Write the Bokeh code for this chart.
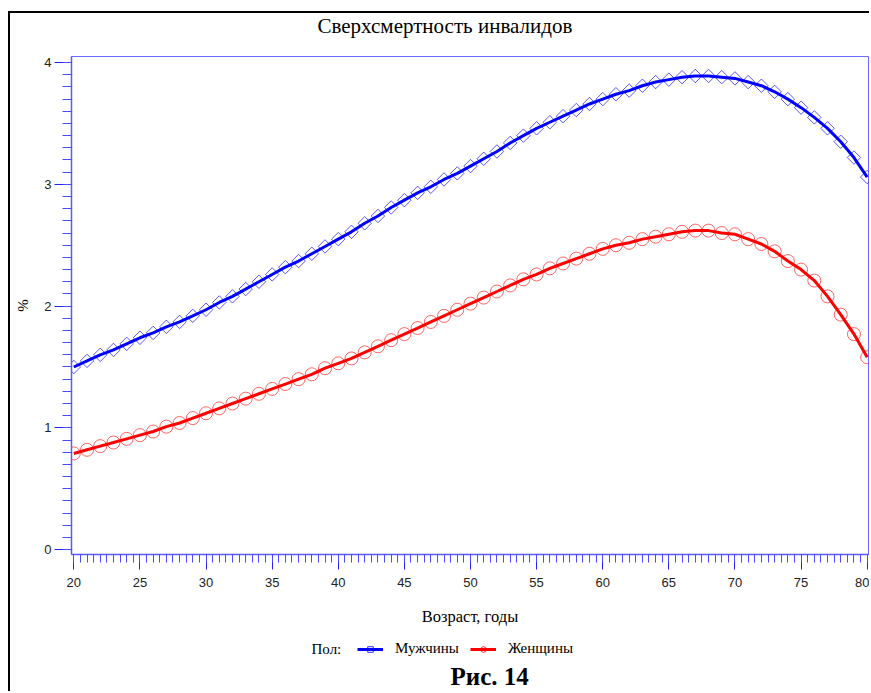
import math
from bokeh.plotting import figure
from bokeh.layouts import column, row
from bokeh.models import Range1d, SingleIntervalTicker, Legend, LegendItem, Title, Label
from bokeh.embed import file_html
from bokeh.resources import INLINE

# ---------------- data ----------------
ages = list(range(20, 81))
men = [1.50, 1.55, 1.60, 1.64, 1.69, 1.74, 1.78, 1.83, 1.87, 1.92,
       1.97, 2.03, 2.08, 2.14, 2.20, 2.26, 2.32, 2.37, 2.43, 2.49,
       2.55, 2.61, 2.68, 2.74, 2.81, 2.87, 2.93, 2.98, 3.04, 3.09,
       3.15, 3.21, 3.27, 3.34, 3.40, 3.46, 3.51, 3.56, 3.61, 3.66,
       3.70, 3.74, 3.77, 3.81, 3.84, 3.86, 3.88, 3.89, 3.89, 3.88,
       3.87, 3.84, 3.81, 3.76, 3.70, 3.63, 3.55, 3.46, 3.35, 3.22,
       3.06]
women = [0.79, 0.82, 0.85, 0.88, 0.91, 0.94, 0.97, 1.01, 1.04, 1.08,
         1.12, 1.16, 1.20, 1.24, 1.28, 1.32, 1.36, 1.40, 1.44, 1.49,
         1.53, 1.57, 1.62, 1.67, 1.72, 1.77, 1.82, 1.87, 1.92, 1.97,
         2.02, 2.07, 2.12, 2.17, 2.22, 2.26, 2.31, 2.35, 2.39, 2.43,
         2.47, 2.50, 2.52, 2.55, 2.57, 2.59, 2.61, 2.62, 2.62, 2.60,
         2.59, 2.55, 2.51, 2.45, 2.37, 2.30, 2.21, 2.08, 1.93, 1.77,
         1.58]
title_text = "Сверхсмертность инвалидов"
x_label = "Возраст, годы"
y_label = "%"
legend_title = "Пол:"
series_names = ["Мужчины", "Женщины"]
caption = "Рис. 14"

SERIF = "Liberation Serif"
SANS = "Liberation Sans"
BLUE = "#0000ff"
RED = "#ff0000"

# ================= main chart =================
p = figure(width=861, height=620, output_backend="svg", toolbar_location=None,
           x_range=Range1d(19.826, 80.1), y_range=Range1d(-0.04, 4.05),
           min_border_left=61, min_border_right=3, min_border_top=42,
           min_border_bottom=79, margin=(11, 0, 0, 8))
p.styles = {"border-top": "2px solid black", "border-left": "2px solid black"}
p.grid.visible = False
p.background_fill_color = "white"
p.border_fill_color = "white"
p.outline_line_color = "#6a6aff"
p.outline_line_width = 1

p.xaxis.ticker = SingleIntervalTicker(interval=5, num_minor_ticks=10)
p.yaxis.ticker = SingleIntervalTicker(interval=1, num_minor_ticks=10)
for ax in (p.xaxis, p.yaxis):
    ax.axis_line_color = "#5a5aff"
    ax.axis_line_width = 1.5
    ax.major_tick_line_color = "#2020ff"
    ax.minor_tick_line_color = "#4a4aff"
    ax.major_tick_in = 0
    ax.minor_tick_in = 0
    ax.major_label_text_font = SANS
    ax.major_label_text_font_size = "13px"
    ax.major_label_text_color = "#222222"
    ax.axis_label_text_font = SERIF
    ax.axis_label_text_font_style = "normal"
    ax.axis_label_text_color = "black"
p.xaxis.major_tick_out = 15
p.xaxis.minor_tick_out = 8
p.xaxis.major_label_standoff = 8
p.xaxis.axis_label = x_label
p.xaxis.axis_label_text_font_size = "16.5px"
p.xaxis.axis_label_standoff = 17
p.yaxis.major_tick_out = 17
p.yaxis.minor_tick_out = 9
p.yaxis.major_label_standoff = 3
p.yaxis.axis_label = y_label
p.yaxis.axis_label_text_font_size = "15px"
p.yaxis.axis_label_standoff = 10

m_sc = p.scatter(ages, men, marker="square", angle=math.pi / 4, size=9.5,
                 fill_color=None, line_color=BLUE, line_alpha=0.65, line_width=1)
m_ln = p.line(ages, men, line_color=BLUE, line_width=3)
w_sc = p.scatter(ages, women, marker="circle", size=13,
                 fill_color=None, line_color=RED, line_alpha=0.6, line_width=1)
w_ln = p.line(ages, women, line_color=RED, line_width=3)

p.add_layout(Title(text=" ", text_font_size="10px", standoff=7), "above")
p.add_layout(Title(text=title_text, text_font=SERIF, text_font_size="21px",
                   text_font_style="normal", text_color="black",
                   align="left", offset=246, vertical_align="bottom",
                   standoff=-3), "above")

# ================= legend + caption strip (data units = page pixels) =================
p2 = figure(width=861, height=60, output_backend="svg", toolbar_location=None,
            x_range=Range1d(71, 868), y_range=Range1d(693, 633),
            min_border_left=61, min_border_right=3, min_border_top=0,
            min_border_bottom=0, x_axis_location=None, y_axis_location=None,
            margin=(0, 0, 0, 8))
p2.styles = {"border-left": "2px solid black"}
p2.grid.visible = False
p2.outline_line_color = None
p2.background_fill_color = "white"
p2.border_fill_color = "white"

# same series drawn in the strip only to feed the legend (they fall outside its ranges)
lg_m_ln = p2.line(ages, men, line_color=BLUE, line_width=3)
lg_m_sc = p2.scatter(ages, men, marker="square", angle=math.pi / 4, size=9.5,
                     fill_color=None, line_color=BLUE, line_alpha=0.8)
lg_w_ln = p2.line(ages, women, line_color=RED, line_width=3)
lg_w_sc = p2.scatter(ages, women, marker="circle", size=13,
                     fill_color=None, line_color=RED, line_alpha=0.8)

legend = Legend(items=[LegendItem(label=series_names[0], renderers=[lg_m_ln, lg_m_sc]),
                       LegendItem(label=series_names[1], renderers=[lg_w_ln, lg_w_sc])],
                orientation="horizontal", location=(286, 34),
                glyph_width=26, glyph_height=14, label_standoff=12, spacing=11,
                padding=0, margin=0, border_line_color=None, background_fill_alpha=0,
                label_text_font=SERIF, label_text_font_size="15px",
                label_height=17, label_text_color="black")
p2.add_layout(legend)

p2.add_layout(Label(x=311, y=650, text=legend_title, text_align="left",
                    text_baseline="middle", text_font=SERIF, text_font_size="15px",
                    text_color="black"))
p2.add_layout(Label(x=450, y=678, text=caption, text_align="left",
                    text_baseline="middle", text_font=SERIF, text_font_size="25px",
                    text_font_style="bold", text_color="black"))

layout = column(row(p), row(p2), spacing=0)
open("out.html", "w").write(file_html(layout, INLINE))
